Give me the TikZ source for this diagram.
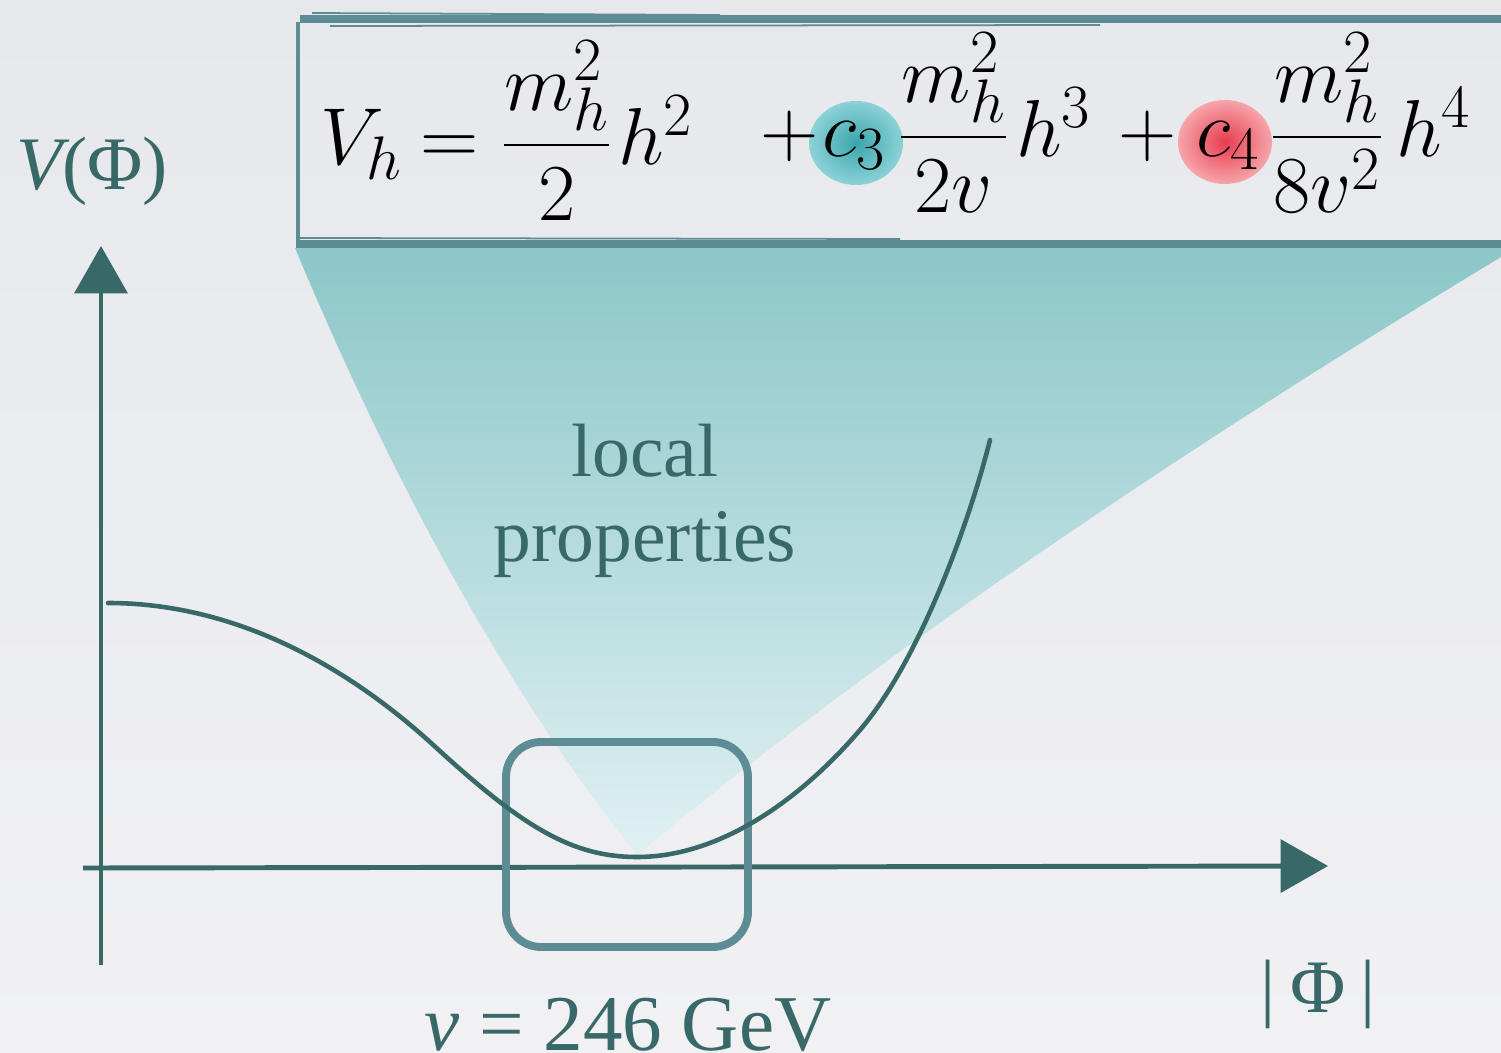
\RequirePackage{fix-cm}
\documentclass[tikz,border=0pt]{standalone}
\usepackage{amsmath}
\usepackage{fontspec}
\usepackage{tikz}
\usetikzlibrary{positioning,arrows.meta,calc}
\newfontfamily\labelfont{Liberation Serif}
\DeclareMathSizes{46}{46}{35}{26}
\definecolor{axisteal}{RGB}{56,104,104}
\definecolor{boxteal}{RGB}{94,140,148}
\definecolor{fantop}{RGB}{140,199,201}
\definecolor{fanbottom}{RGB}{224,240,242}
\definecolor{bgtop}{RGB}{230,232,236}
\definecolor{bgbottom}{RGB}{241,241,244}
\definecolor{cthree}{RGB}{58,166,172}
\definecolor{cthreeout}{RGB}{140,210,215}
\definecolor{cfour}{RGB}{232,60,78}
\definecolor{cfourout}{RGB}{246,165,170}

\begin{document}
\begin{tikzpicture}[x=0.02cm, y=-0.02cm, >={Triangle[length=27pt,width=30pt]},
  axisline/.style={draw=axisteal, line width=2.8pt},
  sketchbox/.style={draw=boxteal, line width=4.5pt},
  lbl/.style={text=axisteal, font=\labelfont\fontsize{43}{50}\selectfont, inner sep=0pt},
  eq/.style={font=\fontsize{46}{52}\selectfont, inner sep=0pt, anchor=base west}]

\useasboundingbox (0,0) rectangle (1501,1053);
\shade[top color=bgtop, bottom color=bgbottom] (0,0) rectangle (1501,1053);

% zoom fan
\shade[top color=fantop, bottom color=fanbottom]
    (295,248) .. controls (400,499) and (514,701) .. (637,855)
    .. controls (857,672) and (1145,472) .. (1501,257) -- (1512,248) -- cycle;

% equation box
\draw[boxteal, line width=5pt] (300,19) -- (1512,19);
\draw[boxteal, line width=1pt] (312,13) -- (720,15);
\draw[boxteal, line width=1pt] (330,26) -- (1100,25);
\draw[boxteal, line width=4.5pt] (296,244) -- (1512,244);
\draw[boxteal, line width=1pt] (300,238) -- (900,239);
\draw[boxteal, line width=1.8pt] (298,22) -- (298,246);

\shade[inner color=cthree, outer color=cthreeout] (856,143) ellipse [x radius=47, y radius=42];
\shade[inner color=cfour, outer color=cfourout] (1225,142) ellipse [x radius=47, y radius=42];

\node[eq] (vh) at (320,165) {$V_h$};
\node[eq] (eqsign) at (420,165) {$=$};
\node[eq] (fraca) at (502,165) {$\dfrac{m_h^2}{2}$};
\node[eq] (hsq) at (618,165) {$h^2$};
\node[eq] (plusa) at (760,157) {$+$};
\node[eq] (cthreen) at (822,157) {$c_3$};
\node[eq] (fracb) at (899,157) {$\dfrac{m_h^2}{2v}$};
\node[eq] (hcube) at (1016,157) {$h^3$};
\node[eq] (plusb) at (1118,157) {$+$};
\node[eq] (cfourn) at (1196,157) {$c_4$};
\node[eq] (fracc) at (1271,157) {$\dfrac{m_h^2}{8v^2}$};
\node[eq] (hfour) at (1396,157) {$h^4$};

% axes
\coordinate (ybot) at (101,965);
\coordinate (ytop) at (101,246);
\coordinate (xleft) at (83,868);
\coordinate (xright) at (1328,866);
\draw[axisline, ->] (ybot) -- (ytop);
\draw[axisline, ->] (xleft) -- (xright);

% minimum box
\draw[sketchbox, rounded corners=20pt] (506,742) rectangle (748,947);

% potential
\draw[axisteal, line width=2.6pt, line cap=round]
    (108,603) .. controls (220,603) and (330,652) .. (430,742)
    .. controls (520,825) and (570,857) .. (637,857)
    .. controls (720,857) and (800,800) .. (860,730)
    .. controls (920,660) and (970,520) .. (990,440);

% labels
\node[lbl, anchor=base] (vphi) at (92,190) {\itshape V\upshape(Φ)};
\node[lbl, anchor=base] (local) at (645,477) {local};
\node[lbl, anchor=base] (props) at (645,562) {properties};
\node[lbl, anchor=base west, font=\labelfont\fontsize{45}{50}\selectfont] (vev) at (424,1050)
    {\itshape v\upshape{} = 246 GeV};
\node[lbl, anchor=base] (absphi) at (1318,1012) {|\hspace{0.2em}Φ\hspace{0.2em}|};

\end{tikzpicture}
\end{document}
